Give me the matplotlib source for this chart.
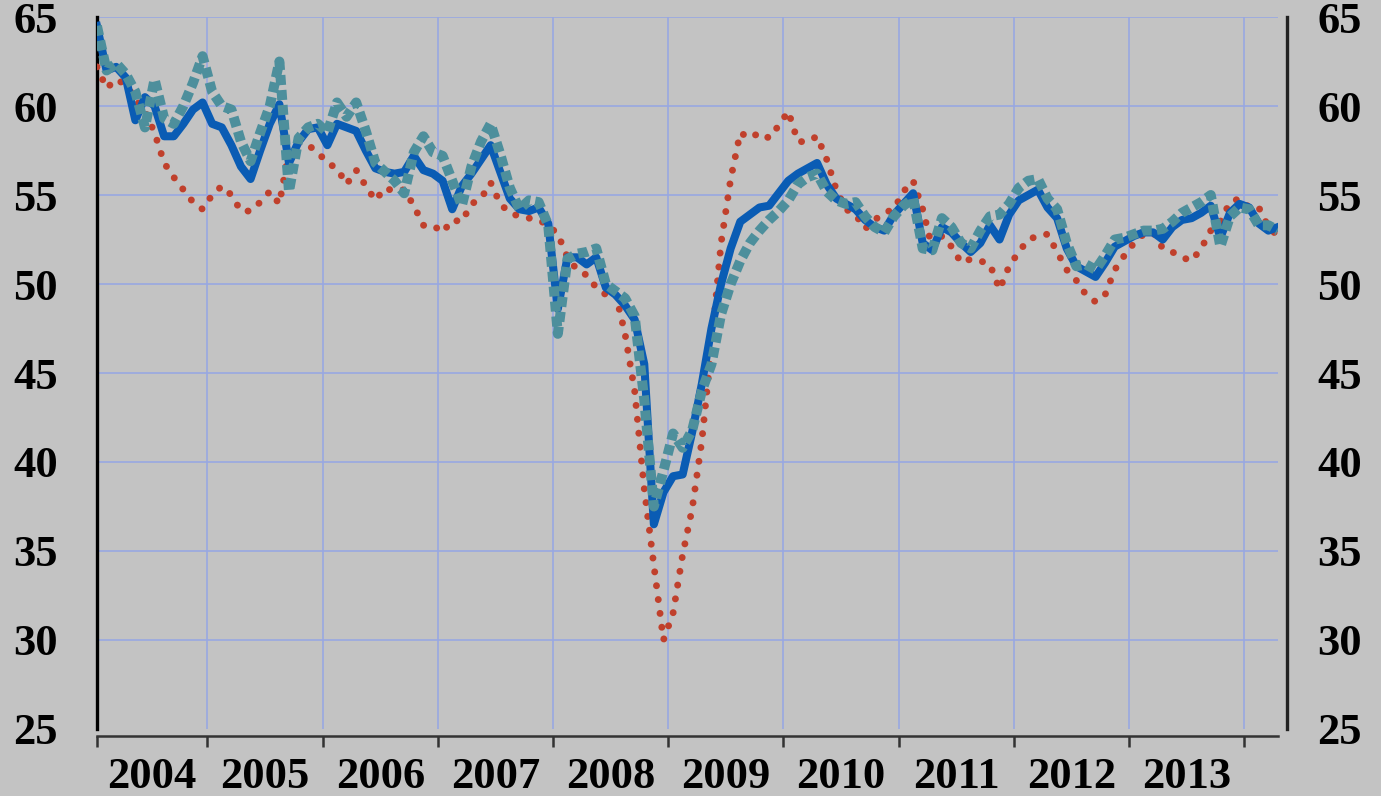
import numpy as np
import matplotlib
matplotlib.use("Agg")
import matplotlib.pyplot as plt
from matplotlib.ticker import FixedLocator, NullFormatter, FixedFormatter

# monthly values, Jan 2004 .. Apr 2014
blue = [
    64.5, 62.0, 62.2, 61.6, 59.2, 60.5, 60.0, 58.3, 58.3, 59.0, 59.8, 60.2,  # 2004
    59.0, 58.8, 57.8, 56.6, 55.9, 57.5, 59.0, 60.1, 56.8, 58.0, 58.7, 58.8,  # 2005
    57.8, 59.0, 58.8, 58.6, 57.5, 56.5, 56.3, 56.2, 56.3, 57.2, 56.4, 56.2,  # 2006
    55.8, 54.2, 55.5, 56.2, 57.0, 57.8, 56.3, 54.8, 54.2, 54.1, 54.3, 53.4,  # 2007
    48.6, 51.5, 51.5, 51.1, 51.5, 49.8, 49.4, 48.8, 48.0, 45.5, 36.5, 38.3,  # 2008
    39.2, 39.3, 41.7, 44.4, 47.5, 50.0, 52.0, 53.5, 53.9, 54.3, 54.4, 55.1,  # 2009
    55.8, 56.2, 56.5, 56.8, 55.6, 54.8, 54.5, 54.2, 53.6, 53.2, 53.0, 53.9,  # 2010
    54.5, 55.1, 52.3, 51.9, 53.2, 52.9, 52.3, 51.8, 52.3, 53.3, 52.5, 53.9,  # 2011
    54.7, 55.0, 55.3, 54.3, 53.7, 52.0, 51.0, 50.7, 50.4, 51.2, 52.1, 52.4,  # 2012
    52.7, 52.9, 52.9, 52.5, 53.2, 53.6, 53.7, 54.0, 54.4, 52.6, 54.0, 54.5,  # 2013
    54.3, 53.4, 53.0, 53.2,                                                  # 2014
]
teal = [
    64.5, 62.0, 62.4, 61.8, 60.8, 58.8, 61.5, 59.3, 59.0, 60.0, 61.3, 62.8,
    60.8, 60.0, 59.8, 58.0, 56.9, 58.5, 60.0, 62.5, 55.2, 58.2, 58.8, 59.0,
    58.5, 60.2, 59.4, 60.2, 58.6, 56.8, 56.3, 55.8, 55.1, 57.4, 58.3, 57.4,
    57.2, 55.8, 54.4, 56.6, 58.0, 59.0, 57.3, 55.4, 54.2, 54.7, 54.6, 53.3,
    47.2, 51.4, 51.7, 51.8, 52.0, 50.0, 49.6, 49.2, 48.2, 43.5, 37.5, 39.5,
    41.6, 40.8, 41.8, 44.0, 45.5, 48.3, 50.0, 51.3, 52.3, 53.0, 53.6, 54.1,
    54.7, 55.6, 56.0, 56.2, 55.2, 54.7, 54.5, 54.6, 53.8, 53.2, 52.9, 53.8,
    54.4, 54.8, 52.0, 51.9, 53.7, 53.2, 52.3, 52.0, 53.0, 53.8, 53.9, 54.5,
    55.4, 55.8, 55.9, 54.8, 54.2, 52.3, 51.0, 51.1, 50.8, 51.6, 52.5, 52.6,
    52.8, 53.0, 53.0, 53.1, 53.5, 54.0, 54.3, 54.6, 55.0, 52.1, 53.8, 54.3,
    54.2, 53.3, 53.3, 53.0,
]
red = [
    62.2, 61.0, 61.5, 61.2, 60.4, 59.7, 58.5, 56.8, 56.0, 55.3, 54.6, 54.2,
    55.0, 55.5, 55.0, 54.1, 54.1, 54.6, 55.2, 54.5, 57.5, 57.9, 57.8, 57.4,
    56.8, 56.5, 55.6, 56.4, 55.5, 54.7, 55.4, 55.2, 55.3, 54.4, 53.3, 53.3,
    52.9, 53.6, 53.5, 54.5, 54.8, 55.7, 54.5, 54.0, 53.8, 53.7, 53.6, 53.3,
    52.8, 51.5, 50.8, 50.5, 49.8, 49.4, 49.5, 47.2, 44.0, 38.5, 34.2, 30.0,
    31.5, 34.8, 37.4, 41.2, 46.5, 52.3, 55.9, 58.5, 58.2, 58.5, 58.2, 58.9,
    59.7, 58.0, 58.0, 58.3, 57.0, 55.3, 54.2, 53.9, 53.1, 53.6, 54.0, 54.2,
    55.2, 55.8, 54.2, 52.0, 52.7, 52.1, 51.2, 51.4, 51.3, 51.1, 49.7, 51.0,
    51.8, 52.5, 52.7, 52.8, 51.8, 50.8, 50.2, 49.4, 49.0, 49.4, 50.8, 51.6,
    52.3, 52.8, 52.9, 52.0, 51.8, 51.5, 51.3, 52.0, 53.0, 53.5, 54.6, 54.8,
    54.3, 54.3, 53.2, 52.7,
]
years = ["2004", "2005", "2006", "2007", "2008", "2009", "2010", "2011", "2012", "2013"]
yticks = [25, 30, 35, 40, 45, 50, 55, 60, 65]

x = np.arange(len(blue)) + 0.5  # months since Jan 2004, mid-month

bg = "#c3c3c3"
grid_c = "#98a8e2"
plt.rcParams["font.family"] = ["Liberation Serif", "DejaVu Serif"]
plt.rcParams["font.weight"] = "bold"

fig = plt.figure(figsize=(13.81, 7.96), dpi=100, facecolor=bg)
ax = fig.add_axes([0.0702, 0.0842, 0.8552, 0.8944], facecolor=bg)

ax.plot(x, red, color="#c0402c", lw=5.0, linestyle=(0, (0.01, 2.0)),
        dash_capstyle="round", solid_capstyle="round", zorder=3)
ax.plot(x, blue, color="#0a5cb4", lw=5.8, solid_joinstyle="round", zorder=4)
ax.plot(x, teal, color="#4d8f9c", lw=7.2, linestyle=(0, (1.0, 0.5)),
        dash_capstyle="butt", zorder=5)

ax.set_xlim(0.5, 123.5)
ax.set_ylim(25, 65)

# x axis: ticks at year boundaries, labels in between
bounds = [0.5] + [12 * k for k in range(1, 11)]
mids = [6.25] + [12 * k + 6 for k in range(1, 10)]
ax.xaxis.set_major_locator(FixedLocator(bounds))
ax.xaxis.set_major_formatter(NullFormatter())
ax.xaxis.set_minor_locator(FixedLocator(mids))
ax.xaxis.set_minor_formatter(FixedFormatter(years))
ax.tick_params(axis="x", which="major", direction="out", length=8, width=1.8,
               color="#333333")
ax.tick_params(axis="x", which="minor", length=0, pad=15, labelsize=32)

ax.set_yticks(yticks)
ax.tick_params(axis="y", length=0, pad=28, labelsize=32)

ax.grid(True, which="major", color=grid_c, lw=1.2, zorder=0)
ax.yaxis.get_gridlines()[0].set_visible(False)
ax.xaxis.get_gridlines()[0].set_visible(False)

ax.spines["top"].set_visible(False)
ax.spines["left"].set_color("black")
ax.spines["left"].set_linewidth(2.4)
ax.spines["bottom"].set_position(("outward", 5))
ax.spines["bottom"].set_color("#333333")
ax.spines["bottom"].set_linewidth(1.8)
ax.spines["right"].set_visible(False)

# right-hand axis
ax2 = ax.twinx()
ax2.set_ylim(25, 65)
ax2.set_yticks(yticks)
ax2.tick_params(axis="y", length=0, pad=22, labelsize=32)
for s in ["top", "left", "bottom"]:
    ax2.spines[s].set_visible(False)
ax2.spines["right"].set_position(("outward", 6.5))
ax2.spines["right"].set_color("#222222")
ax2.spines["right"].set_linewidth(2.4)

for lab in ax.get_xticklabels(minor=True) + ax.get_yticklabels() + ax2.get_yticklabels():
    lab.set_fontweight("bold")

fig.savefig("out.png", dpi=100, facecolor=bg)
